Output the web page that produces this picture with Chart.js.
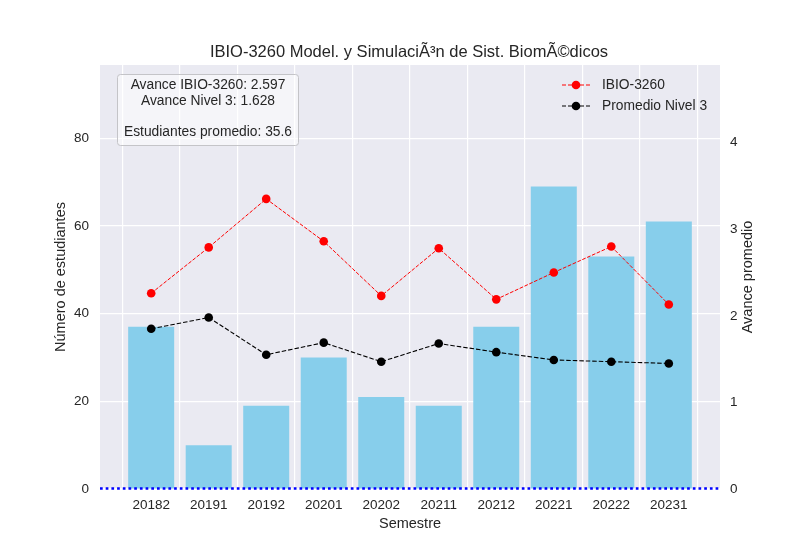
<!DOCTYPE html>
<html>
<head>
<meta charset="utf-8">
<script src="https://cdn.jsdelivr.net/npm/chart.js@4.4.1/dist/chart.umd.min.js"></script>
<style>
  html, body { margin: 0; padding: 0; background: #ffffff; }
  #wrap { width: 800px; height: 550px; }
</style>
</head>
<body>
<div id="wrap"><canvas id="c" width="800" height="550"></canvas></div>
<script>
const semesters = ['20182','20191','20192','20201','20202','20211','20212','20221','20222','20231'];
const students = [37, 10, 19, 30, 21, 19, 37, 69, 53, 61];
const avanceIbio = [2.26, 2.79, 3.35, 2.86, 2.23, 2.78, 2.19, 2.50, 2.80, 2.13];
const avanceNivel3 = [1.85, 1.98, 1.55, 1.69, 1.47, 1.68, 1.58, 1.49, 1.47, 1.45];
const leftTicks = [0, 20, 40, 60, 80];
const rightTicks = [0, 1, 2, 3, 4];
const leftMax = 96.7;
const rightMax = 4.896;
const titleText = 'IBIO-3260 Model. y SimulaciÃ³n de Sist. BiomÃ©dicos';
const summaryLines = ['Avance IBIO-3260: 2.597', 'Avance Nivel 3: 1.628', '', 'Estudiantes promedio: 35.6'];
const legendLabels = ['IBIO-3260', 'Promedio Nivel 3'];

const FONT = '"Liberation Sans", Arial, Helvetica, sans-serif';
const TXT = '#262626';

const toXY = arr => arr.map((v, i) => ({ x: i, y: v }));

const decor = {
  id: 'decor',
  beforeDraw(chart) {
    const { ctx, chartArea: a } = chart;
    ctx.save();
    ctx.fillStyle = '#ffffff';
    ctx.fillRect(0, 0, chart.width, chart.height);
    ctx.fillStyle = '#EAEAF2';
    ctx.fillRect(a.left, a.top, a.right - a.left, a.bottom - a.top);
    ctx.restore();
  },
  afterDatasetsDraw(chart) {
    const { ctx, chartArea: a } = chart;
    const y0 = chart.scales.y.getPixelForValue(0);
    ctx.save();
    ctx.strokeStyle = '#0000FF';
    ctx.lineWidth = 2.6;
    ctx.setLineDash([2.7, 3]);
    ctx.beginPath();
    ctx.moveTo(a.left, y0 - 0.5);
    ctx.lineTo(a.right, y0 - 0.5);
    ctx.stroke();
    ctx.restore();
  },
  afterDraw(chart) {
    const { ctx, chartArea: a } = chart;
    ctx.save();
    // title
    ctx.fillStyle = TXT;
    ctx.font = '16.5px ' + FONT;
    ctx.textAlign = 'center';
    ctx.textBaseline = 'middle';
    ctx.fillText(titleText, 409, 52);
    // axis titles
    ctx.font = '14.5px ' + FONT;
    ctx.fillText('Semestre', (a.left + a.right) / 2, 524);
    ctx.save();
    ctx.translate(61, (a.top + a.bottom) / 2);
    ctx.rotate(-Math.PI / 2);
    ctx.fillText('Número de estudiantes', 0, 0);
    ctx.restore();
    ctx.save();
    ctx.translate(748, (a.top + a.bottom) / 2);
    ctx.rotate(-Math.PI / 2);
    ctx.fillText('Avance promedio', 0, 0);
    ctx.restore();

    // summary box
    const bx = 117.5, by = 74.5, bw = 181, bh = 71, r = 3;
    ctx.beginPath();
    ctx.moveTo(bx + r, by);
    ctx.lineTo(bx + bw - r, by);
    ctx.arcTo(bx + bw, by, bx + bw, by + r, r);
    ctx.lineTo(bx + bw, by + bh - r);
    ctx.arcTo(bx + bw, by + bh, bx + bw - r, by + bh, r);
    ctx.lineTo(bx + r, by + bh);
    ctx.arcTo(bx, by + bh, bx, by + bh - r, r);
    ctx.lineTo(bx, by + r);
    ctx.arcTo(bx, by, bx + r, by, r);
    ctx.closePath();
    ctx.fillStyle = 'rgba(255,255,255,0.5)';
    ctx.fill();
    ctx.strokeStyle = '#c4c4c8';
    ctx.lineWidth = 1;
    ctx.stroke();
    ctx.fillStyle = TXT;
    ctx.font = '13.8px ' + FONT;
    ctx.textAlign = 'center';
    summaryLines.forEach((t, i) => {
      if (t) ctx.fillText(t, bx + bw / 2, 85.5 + i * 15.6);
    });

    // legend
    const ds = chart.data.datasets;
    [1, 2].forEach((di, k) => {
      const d = ds[di];
      const yy = 85 + k * 21;
      ctx.strokeStyle = d.borderColor;
      ctx.lineWidth = 1;
      ctx.setLineDash([4, 2]);
      ctx.beginPath();
      ctx.moveTo(562, yy);
      ctx.lineTo(590, yy);
      ctx.stroke();
      ctx.setLineDash([]);
      ctx.fillStyle = d.pointBackgroundColor;
      ctx.beginPath();
      ctx.arc(576, yy, 4.3, 0, Math.PI * 2);
      ctx.fill();
      ctx.fillStyle = TXT;
      ctx.font = '13.8px ' + FONT;
      ctx.textAlign = 'left';
      ctx.fillText(legendLabels[k], 602, yy);
    });
    ctx.restore();
  }
};

const tickFont = { family: FONT, size: 13.5 };

new Chart(document.getElementById('c'), {
  type: 'bar',
  data: {
    datasets: [
      {
        type: 'bar',
        label: 'Estudiantes',
        data: toXY(students),
        backgroundColor: '#87CEEB',
        borderWidth: 0,
        barPercentage: 0.8,
        categoryPercentage: 1.0,
        xAxisID: 'x',
        yAxisID: 'y',
        order: 3
      },
      {
        type: 'line',
        label: legendLabels[0],
        data: toXY(avanceIbio),
        borderColor: '#FF0000',
        backgroundColor: '#FF0000',
        pointBackgroundColor: '#FF0000',
        pointBorderWidth: 0,
        pointRadius: 4.3,
        borderWidth: 1,
        borderDash: [3.7, 1.6],
        tension: 0,
        fill: false,
        xAxisID: 'x',
        yAxisID: 'y2',
        order: 1
      },
      {
        type: 'line',
        label: legendLabels[1],
        data: toXY(avanceNivel3),
        borderColor: '#000000',
        backgroundColor: '#000000',
        pointBackgroundColor: '#000000',
        pointBorderWidth: 0,
        pointRadius: 4.3,
        borderWidth: 1.1,
        borderDash: [4.5, 2],
        tension: 0,
        fill: false,
        xAxisID: 'x',
        yAxisID: 'y2',
        order: 2
      }
    ]
  },
  options: {
    responsive: false,
    animation: false,
    devicePixelRatio: 1,
    layout: { padding: { top: 65, left: 0, right: 0, bottom: 0 } },
    plugins: { legend: { display: false }, tooltip: { enabled: false }, title: { display: false } },
    scales: {
      x: {
        type: 'linear',
        min: -0.89,
        max: 9.89,
        offset: false,
        afterBuildTicks: s => { s.ticks = semesters.map((_, i) => ({ value: i })); },
        afterFit: s => { s.height = 61; },
        ticks: { callback: v => semesters[v], color: TXT, font: tickFont, padding: 8, maxRotation: 0, autoSkip: false },
        grid: { color: '#ffffff', lineWidth: 1.2, drawTicks: false },
        border: { display: false }
      },
      y: {
        type: 'linear',
        position: 'left',
        min: 0,
        max: leftMax,
        afterBuildTicks: s => { s.ticks = leftTicks.map(v => ({ value: v })); },
        afterFit: s => { s.width = 100; },
        ticks: { color: TXT, font: tickFont, padding: 11 },
        grid: { color: '#ffffff', lineWidth: 1.2, drawTicks: false },
        border: { display: false }
      },
      y2: {
        type: 'linear',
        position: 'right',
        min: 0,
        max: rightMax,
        afterBuildTicks: s => { s.ticks = rightTicks.map(v => ({ value: v })); },
        afterFit: s => { s.width = 80; },
        ticks: { color: TXT, font: tickFont, padding: 10 },
        grid: { display: false, drawTicks: false },
        border: { display: false }
      }
    }
  },
  plugins: [decor]
});
</script>
</body>
</html>
